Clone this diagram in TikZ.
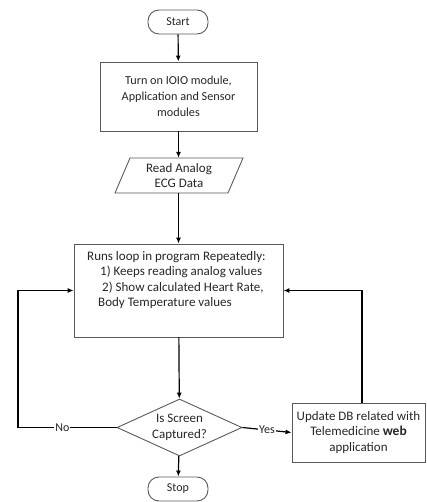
\documentclass[tikz,border=0pt]{standalone}
\usepackage{fontspec}
\setmainfont{Carlito}
\usetikzlibrary{shapes.geometric,arrows.meta,calc}
\begin{document}
\begin{tikzpicture}[x=1pt,y=-1pt,
  font=\fontsize{13}{15.5}\selectfont,
  txt/.style={text=black!85},
  box/.style={draw=black!65,line width=0.9pt,rectangle,inner sep=0pt,align=center,txt},
  term/.style={box,rounded corners=11pt,minimum width=60pt,minimum height=24pt,font=\fontsize{12}{15.5}\selectfont},
  arr/.style={line width=1.2pt,-{Latex[length=6pt,width=5pt]}},
  lab/.style={fill=white,inner sep=1pt,txt,font=\fontsize{12}{15.5}\selectfont}]
\useasboundingbox (0,0) rectangle (426,502);
% nodes
\node[term] (start) at (178,22) {Start};
\node[box,minimum width=157pt,minimum height=69pt,font=\fontsize{12.2}{15.7}\selectfont] (power) at (178.5,96.5)
  {Turn on IOIO module,\\Application and Sensor\\modules};
\node[inner sep=0pt,minimum width=113pt,minimum height=35pt,align=center,txt] (read) at (179,175.5)
  {Read Analog\\ECG Data};
\draw[draw=black!65,line width=0.9pt] (130,158) -- (243,158) -- (228,193) -- (115,193) -- cycle;
\node[box,minimum width=209pt,minimum height=93pt] (loop) at (178.5,290.5) {};
\node[inner sep=0pt,anchor=north west,align=left,txt] (looptext) at (87,251)
  {Runs loop in program Repeatedly:\\
   \hspace*{13pt}1) Keeps reading analog values\\
   \hspace*{15pt}2) Show calculated Heart Rate,\\
   \hspace*{11pt}Body Temperature values};
\node[diamond,draw=black!65,line width=0.9pt,minimum width=125pt,minimum height=57pt,
  inner sep=0pt,align=center,txt,aspect=2.2] (dia) at (179.5,427.5) {Is Screen\\Captured?};
\node[term] (stop) at (178,489) {Stop};
\node[box,minimum width=133pt,minimum height=59pt] (upd) at (358.5,432.5)
  {Update DB related with\\Telemedicine \textbf{\fontsize{13.5}{15.5}\selectfont web}\\application};
\coordinate (lx) at (18,0);
\coordinate (rx) at (362,0);
% connectors
\draw[arr] (start) -- (power);
\draw[arr] (power.south) -- (power.south |- read.north);
\draw[arr] (read.south -| loop.north) -- (loop.north);
\draw[arr] (loop) -- (dia);
\draw[arr] (dia) -- (stop);
\draw[arr] (dia.east) -- node[lab] {Yes} (upd.west);
\draw[arr] (dia.west) -- node[lab,pos=0.55] {No} (dia.west -| lx) |- (loop.west);
\draw[arr] (upd.north -| rx) |- (loop.east);
\end{tikzpicture}
\end{document}
